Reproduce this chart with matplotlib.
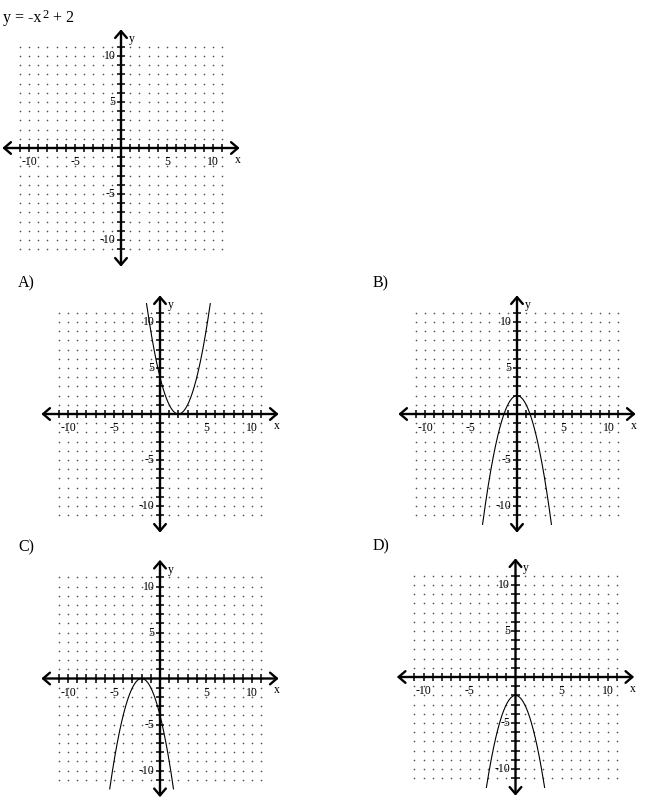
import numpy as np
import matplotlib
matplotlib.use("Agg")
import matplotlib.pyplot as plt

plt.rcParams['font.family'] = ['Liberation Serif', 'DejaVu Serif']

# data
title_parts = ['y = -x', '2', ' + 2']
choices = ['A)', 'B)', 'C)', 'D)']
grid_range = list(range(-11, 12))
tick_labels = [-10, -5, 5, 10]
# each choice shows y = a (x - h)^2 + k, cut at |y| = 12
curve_a = [1, -1, -1, -1]
curve_h = [2, 0, -2, 0]
curve_k = [0, 2, 0, -2]
y_cut = 12

W, H = 650, 801
unit = 9.2          # pixels per grid unit
half = 14           # half width of each panel in grid units
# origin of each panel in pixels (top panel first)
origins = [(121, 148), (160, 414), (517, 414), (160, 678.5), (515.5, 677)]
label_pos = [(18, 287), (373, 287), (18, 551), (373, 550)]

fig = plt.figure(figsize=(W / 100, H / 100), dpi=100)


def panel(ox, oy):
    size = 2 * half * unit
    ax = fig.add_axes([(ox - half * unit) / W, (H - oy - half * unit) / H,
                       size / W, size / H])
    ax.set_xlim(-half, half)
    ax.set_ylim(-half, half)
    ax.axis('off')

    gx, gy = np.meshgrid(grid_range, grid_range)
    ax.scatter(gx.ravel(), gy.ravel(), s=1.4, color='#505050', lw=0)

    for start, end in [((-12.9, 0), (12.9, 0)), ((0, -12.9), (0, 12.9))]:
        ax.annotate('', xy=end, xytext=start,
                    arrowprops=dict(arrowstyle='<->,head_length=0.35,head_width=0.3',
                                    lw=1.7, color='black', shrinkA=0, shrinkB=0,
                                    mutation_scale=14))

    ticks = [t for t in grid_range if t != 0]
    ax.vlines(ticks, -0.45, 0.45, color='black', lw=1.1)
    ax.hlines(ticks, -0.45, 0.45, color='black', lw=1.1)

    for t in tick_labels:
        ax.text(t, -1.55, str(t), ha='center', va='center', fontsize=8.5)
        ax.text(-0.6, t, str(t), ha='right', va='center', fontsize=8.5)
    ax.text(12.75, -1.3, 'x', ha='center', va='center', fontsize=8.5)
    ax.text(0.8, 11.8, 'y', ha='left', va='center', fontsize=8.5)
    return ax


panel(*origins[0])
t1 = fig.text(3 / W, 1 - 22.5 / H, title_parts[0], fontsize=11.5,
              va='baseline', ha='left')
t2 = fig.text(0, 0, title_parts[1], fontsize=9, va='baseline', ha='left')
t3 = fig.text(0, 0, title_parts[2], fontsize=11.5, va='baseline', ha='left')
fig.canvas.draw()
r = fig.canvas.get_renderer()
b1 = t1.get_window_extent(r)
t2.set_position(((b1.x1 + 1) / W, 1 - 18.5 / H))
fig.canvas.draw()
b2 = t2.get_window_extent(r)
t3.set_position((b2.x1 / W, 1 - 22.5 / H))

for i, name in enumerate(choices):
    ax = panel(*origins[i + 1])
    a, h, k = curve_a[i], curve_h[i], curve_k[i]
    reach = np.sqrt(abs(y_cut * np.sign(a) - k))
    xs = np.linspace(h - reach, h + reach, 300)
    ax.plot(xs, a * (xs - h) ** 2 + k, color='black', lw=0.8)
    fig.text(label_pos[i][0] / W, 1 - label_pos[i][1] / H, name,
             fontsize=11.5, va='baseline', ha='left')

fig.savefig('out.png', dpi=100)
